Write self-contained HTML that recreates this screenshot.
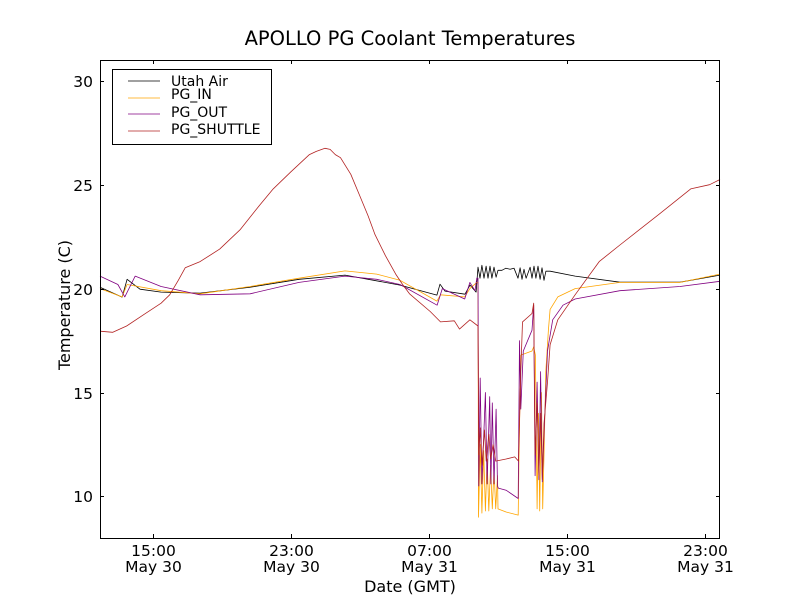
<!DOCTYPE html>
<html><head><meta charset="utf-8"><style>
body{margin:0;background:#fff;}
svg{display:block;font-family:"DejaVu Sans","Liberation Sans",sans-serif;}
</style></head><body>
<svg id="chart" width="800" height="600" viewBox="0 0 800 600">
<rect x="0" y="0" width="800" height="600" fill="#fff"/>
<text x="410" y="45" font-size="19.5" text-anchor="middle">APOLLO PG Coolant Temperatures</text>
<g id="plot"></g>
<rect x="100.5" y="60.5" width="619" height="478" fill="none" stroke="#000" stroke-width="1"/>
<g id="ticks"></g>
<text x="410" y="592" font-size="16" text-anchor="middle">Date (GMT)</text>
<text transform="translate(70,305) rotate(-90)" font-size="16" text-anchor="middle">Temperature (C)</text>
<g font-size="14">
<rect x="112.5" y="69.5" width="159" height="75" fill="#fff" stroke="#000"/>
<g><line x1="128" y1="81" x2="160" y2="81" stroke="#000" stroke-width="0.8"/><text x="171" y="86">Utah Air</text></g>
<g><line x1="128" y1="98" x2="160" y2="98" stroke="#FFA500" stroke-width="0.8"/><text x="171" y="99">PG_IN</text></g>
<g><line x1="128" y1="114" x2="160" y2="114" stroke="#800080" stroke-width="0.8"/><text x="171" y="117">PG_OUT</text></g>
<g><line x1="128" y1="131" x2="160" y2="131" stroke="#B22222" stroke-width="0.8"/><text x="171" y="134">PG_SHUTTLE</text></g>
</g>
</svg>
<script>
// hours since May 30 00:00 GMT
const airT=[11.94,13.22,13.51,14.26,15.48,17.74,20.64,23.48,26.14,29.33,31.47,31.65,31.94,33.10,33.39,33.74,33.85,33.97,34.08,34.20,34.32,34.43,34.55,34.66,34.78,34.90,35.01,35.24,35.47,35.71,35.94,36.17,36.29,36.40,36.52,36.64,36.87,36.98,37.10,37.21,37.33,37.45,37.56,37.68,37.79,38.03,39.48,42.08,45.56,47.88];
const airV=[20.07,19.59,20.45,19.97,19.83,19.78,20.07,20.45,20.65,20.17,19.69,20.21,19.88,19.73,20.17,19.83,21.03,20.5,21.12,20.5,21.08,20.5,21.08,20.5,21.03,20.55,20.88,20.88,20.98,20.93,20.98,20.5,21.0,20.45,20.93,20.5,21.03,20.5,21.08,20.5,21.08,20.45,21.0,20.4,20.84,20.84,20.6,20.31,20.31,20.65];
const inT=[11.94,13.22,13.51,15.48,17.74,20.64,23.48,26.14,27.98,29.33,31.47,31.68,33.08,33.38,33.78,33.85,33.88,33.98,34.08,34.18,34.28,34.38,34.48,34.58,34.68,34.78,34.88,34.98,35.01,35.48,36.18,36.23,36.33,36.98,37.08,37.18,37.28,37.36,37.43,37.53,37.60,37.68,37.78,37.93,38.03,38.48,39.48,42.08,45.56,47.88];
const inV=[20.0,19.6,20.2,19.9,19.75,20.1,20.5,20.85,20.7,20.4,19.4,19.7,19.6,20.0,20.3,20.3,9.0,12.5,9.2,12.2,9.3,11.8,9.3,11.5,9.4,11.3,9.4,11.0,9.4,9.25,9.1,12.0,16.8,17.0,17.2,16.8,9.4,14.0,9.3,15.0,9.4,12.0,16.0,18.0,19.0,19.6,20.0,20.3,20.3,20.7];
const outT=[11.94,12.98,13.38,13.98,15.48,17.74,20.64,23.48,26.14,27.98,29.33,31.48,31.78,33.08,33.38,33.68,33.78,33.85,33.90,33.98,34.08,34.28,34.38,34.53,34.60,34.68,34.78,34.90,34.98,35.03,35.48,36.18,36.26,36.33,36.48,36.98,37.08,37.16,37.28,37.38,37.48,37.58,37.68,37.88,38.18,38.78,39.48,42.08,45.56,47.88];
const outV=[20.6,20.2,19.6,20.6,20.1,19.7,19.75,20.3,20.6,20.45,20.2,19.2,20.0,19.5,20.3,19.9,20.5,20.5,10.5,15.7,10.6,15.0,10.6,14.8,10.6,14.5,10.6,14.2,10.5,10.4,10.3,9.9,17.5,14.2,17.0,18.0,19.2,11.0,15.5,10.8,16.0,10.7,13.0,17.0,18.5,19.2,19.5,19.9,20.1,20.35];
const shT=[11.94,12.68,13.48,14.48,15.48,15.98,16.48,16.88,17.74,18.88,20.08,21.18,21.98,22.98,24.08,24.48,24.98,25.28,25.58,25.88,26.48,26.98,27.48,27.88,28.48,29.08,29.48,29.88,31.08,31.68,32.48,32.78,33.38,33.85,33.90,33.98,34.08,34.23,34.33,34.48,34.58,34.73,34.88,35.48,35.98,36.20,36.33,36.43,36.98,37.08,37.16,37.28,37.38,37.48,37.58,37.68,37.88,38.03,38.48,39.48,40.88,42.08,44.38,46.18,47.28,47.88];
const shV=[17.95,17.9,18.2,18.75,19.3,19.7,20.4,21.0,21.3,21.9,22.85,24.0,24.8,25.6,26.45,26.6,26.75,26.7,26.45,26.3,25.5,24.5,23.5,22.6,21.6,20.7,20.2,19.75,18.9,18.4,18.45,18.05,18.5,18.2,12.0,13.3,11.5,13.2,11.7,13.0,11.8,12.5,11.7,11.8,11.9,11.7,16.0,18.4,18.8,19.3,12.0,14.5,11.0,14.0,10.8,13.5,15.5,17.3,18.5,19.7,21.3,22.1,23.6,24.8,25.0,25.25];
const yTicks=[10,15,20,25,30];
const xTickHours=[15,23,31,39,47];
const xTickTime=["15:00","23:00","07:00","15:00","23:00"];
const xTickDate=["May 30","May 30","May 31","May 31","May 31"];

const X0=100,X1=720,Y0=60,Y1=538,HMIN=11.94,HMAX=47.88,VMIN=8,VMAX=31;
function sx(h){return X0+(h-HMIN)/(HMAX-HMIN)*(X1-X0);}
function sy(v){return Y1-(v-VMIN)/(VMAX-VMIN)*(Y1-Y0);}
const NS="http://www.w3.org/2000/svg";
const plot=document.getElementById('plot');
function series(t,v,color,name){
  const p=document.createElementNS(NS,'path');
  let d='';for(let i=0;i<t.length;i++)d+=(i?'L':'M')+sx(t[i]).toFixed(1)+','+sy(v[i]).toFixed(1);
  p.setAttribute('d',d);p.setAttribute('fill','none');p.setAttribute('stroke',color);p.setAttribute('stroke-width','0.8');p.setAttribute('stroke-linejoin','round');
  
  
  plot.appendChild(p);
}
series(airT,airV,'#000','series-utah-air');
series(inT,inV,'#FFA500','series-pg-in');
series(outT,outV,'#800080','series-pg-out');
series(shT,shV,'#B22222','series-pg-shuttle');
const tk=document.getElementById('ticks');
function add(tag,attrs,txt){const e=document.createElementNS(NS,tag);for(const k in attrs)e.setAttribute(k,attrs[k]);if(txt!=null)e.textContent=txt;tk.appendChild(e);return e;}
yTicks.forEach(v=>{
  const y=Math.round(sy(v))+0.5;
  add('path',{d:`M100,${y}h4M720,${y}h-4`,stroke:'#000'});
  const t=add('text',{x:93,y:y+5.5,'font-size':15.5,'text-anchor':'end'},String(v));
  
  
});
xTickHours.forEach((h,i)=>{
  const x=Math.round(sx(h))+0.5;
  add('path',{d:`M${x},538v-4M${x},60v4`,stroke:'#000'});
  const t=add('text',{x:x,y:556,'font-size':15.5,'text-anchor':'middle'},xTickTime[i]);
  
  
  const d=add('text',{x:x,y:572,'font-size':15.5,'text-anchor':'middle'},xTickDate[i]);
  
  
});
</script>
</body></html>
